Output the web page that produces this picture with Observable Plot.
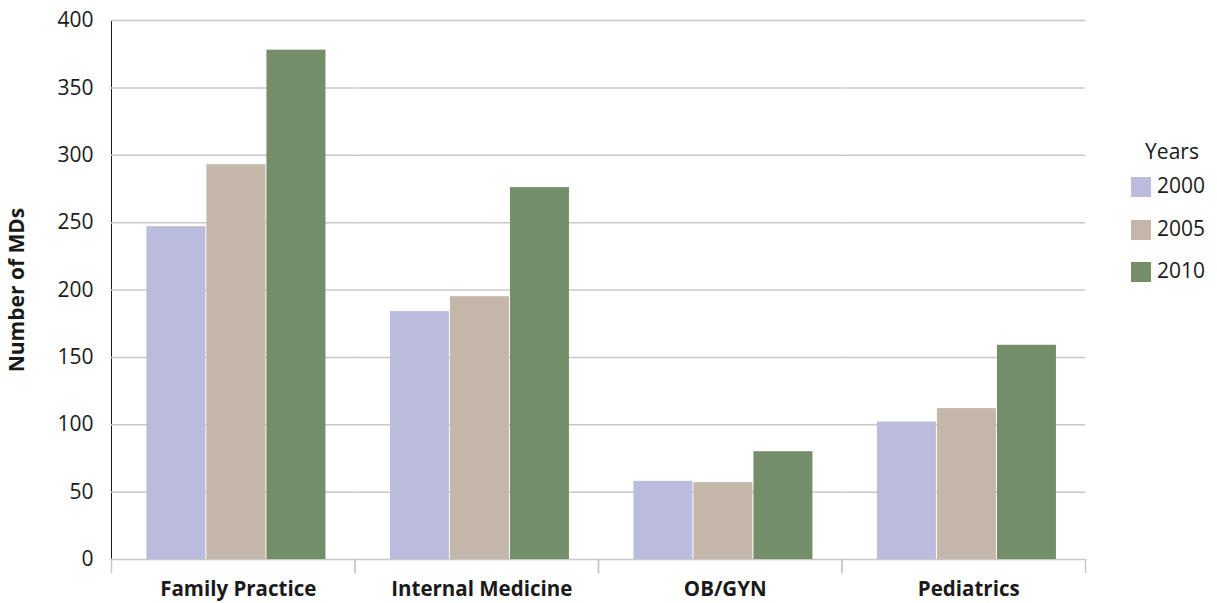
<!DOCTYPE html>
<html>
<head>
<meta charset="utf-8">
<script src="https://cdn.jsdelivr.net/npm/d3@7"></script>
<script src="https://cdn.jsdelivr.net/npm/@observablehq/plot@0.6"></script>
<style>
  body { margin: 0; background: #fff; }
  #wrap { position: relative; width: 1217px; height: 603px; font-family: "Open Sans", sans-serif; color: #1a1a1a; }
  #legend { position: absolute; left: 1131px; top: 138px; font-size: 21px; }
  #legend .title { position: absolute; left: 0; width: 82px; text-align: center; top: 0; white-space: nowrap; }
  #legend .item { position: absolute; left: 0; white-space: nowrap; height: 20px; }
  #legend .sw { position: absolute; left: 0; top: 0; width: 20px; height: 20px; }
  #legend .lb { position: absolute; left: 26px; top: -7px; line-height: 30px; }
  g[aria-label="fx-axis tick label"] text { font-weight: 700; }
  g[aria-label="y-axis label"] text { font-weight: 700; }
</style>
</head>
<body>
<div id="wrap"></div>
<script>
const categories = ["Family Practice", "Internal Medicine", "OB/GYN", "Pediatrics"];
const years = ["2000", "2005", "2010"];
const values2000 = [247, 184, 58, 102];
const values2005 = [293, 195, 57, 112];
const values2010 = [378, 276, 80, 159];
const yearColors = ["#bbbbdd", "#c4b6a9", "#738e69"];
const yTicks = [0, 50, 100, 150, 200, 250, 300, 350, 400];

const series = [values2000, values2005, values2010];
const data = categories.flatMap((c, i) =>
  years.map((yr, j) => ({ category: c, year: yr, value: series[j][i] }))
);

const chart = Plot.plot({
  width: 1217,
  height: 603,
  marginLeft: 111,
  marginRight: 132,
  marginTop: 20,
  marginBottom: 44,
  style: { fontFamily: "Open Sans, sans-serif", fontSize: "21px", color: "#1a1a1a", background: "#fff", overflow: "visible" },
  fx: { domain: categories, padding: 0, round: false, label: null },
  x: { domain: years, axis: null, paddingInner: 0, paddingOuter: 0.529, align: 0.55, round: false },
  y: { domain: [0, 400], ticks: yTicks, tickSize: 0, tickPadding: 18, label: "Number of MDs", labelAnchor: "center", labelArrow: "none", labelOffset: 102, line: true },
  color: { domain: years, range: yearColors },
  marks: [
    Plot.gridY(yTicks, { stroke: "#c8c8c8", strokeOpacity: 1, strokeWidth: 1.5 }),
    Plot.frame({ anchor: "left", stroke: "#c8c8c8", strokeOpacity: 1, strokeWidth: 1.5, insetTop: 539, insetBottom: -13 }),
    Plot.frame({ anchor: "right", stroke: "#c8c8c8", strokeOpacity: 1, strokeWidth: 1.5, insetTop: 539, insetBottom: -13 }),
    Plot.barY(data, { fx: "category", x: "year", y: "value", fill: "year", insetLeft: 0.5, insetRight: 0.5 }),
    Plot.axisFx({ anchor: "bottom", tickSize: 0, tickPadding: 22, dx: 5, fontSize: 20.5, fontWeight: "bold", label: null })
  ]
});

const wrap = document.getElementById("wrap");
wrap.appendChild(chart);

const legend = document.createElement("div");
legend.id = "legend";
const title = document.createElement("div");
title.className = "title";
title.textContent = "Years";
title.style.top = "-1px";
title.style.left = "0px";
legend.appendChild(title);
years.forEach((yr, j) => {
  const item = document.createElement("div");
  item.className = "item";
  item.style.top = (39 + j * 42.5) + "px";
  const sw = document.createElement("div");
  sw.className = "sw";
  sw.style.background = yearColors[j];
  const lb = document.createElement("div");
  lb.className = "lb";
  lb.textContent = yr;
  item.appendChild(sw);
  item.appendChild(lb);
  legend.appendChild(item);
});
wrap.appendChild(legend);
</script>
</body>
</html>
